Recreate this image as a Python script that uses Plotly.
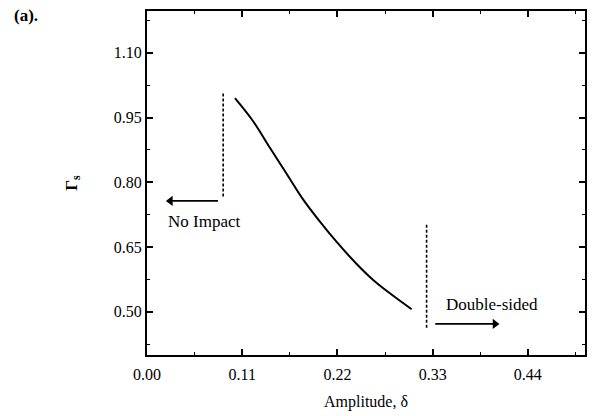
import plotly.graph_objects as go

# Curve data
amplitude = [0.1016, 0.1228, 0.142, 0.1613, 0.1805, 0.1998, 0.2191,
             0.2422, 0.2613, 0.2806, 0.3057]
gamma_s = [0.995, 0.941, 0.880, 0.820, 0.760, 0.709, 0.662,
           0.611, 0.574, 0.543, 0.506]

# Boundary markers
no_impact_x = [0.088, 0.088]
no_impact_y = [0.767, 1.01]
double_x = [0.323, 0.323]
double_y = [0.463, 0.702]

# Arrows (tail -> head)
no_impact_arrow_x = [0.082, 0.027]
no_impact_arrow_y = [0.757, 0.757]
double_arrow_x = [0.333, 0.402]
double_arrow_y = [0.472, 0.472]

x_ticks = [0.00, 0.11, 0.22, 0.33, 0.44]
x_ticklabels = ["0.00", "0.11", "0.22", "0.33", "0.44"]
y_ticks = [0.50, 0.65, 0.80, 0.95, 1.10]
y_ticklabels = ["0.50", "0.65", "0.80", "0.95", "1.10"]

FONT = "Liberation Serif"

fig = go.Figure()
fig.add_trace(go.Scatter(x=amplitude, y=gamma_s, mode="lines",
                         line=dict(color="black", width=2, shape="spline", smoothing=1.0),
                         showlegend=False))
for xs, ys in [(no_impact_x, no_impact_y), (double_x, double_y)]:
    fig.add_trace(go.Scatter(x=xs, y=ys, mode="lines",
                             line=dict(color="black", width=1.6, dash="3px,2px"),
                             showlegend=False))
for xs, ys, sym in [(no_impact_arrow_x, no_impact_arrow_y, "triangle-left"),
                    (double_arrow_x, double_arrow_y, "triangle-right")]:
    fig.add_trace(go.Scatter(x=xs, y=ys, mode="lines", line=dict(color="black", width=1.6),
                             showlegend=False))
    fig.add_trace(go.Scatter(x=[xs[1]], y=[ys[1]], mode="markers",
                             marker=dict(symbol=sym, size=9, color="black"),
                             showlegend=False))

fig.add_annotation(x=0.066, y=0.709, xref="x", yref="y", text="No Impact",
                   showarrow=False, font=dict(family=FONT, size=17, color="black"))
fig.add_annotation(x=0.398, y=0.516, xref="x", yref="y", text="Double-sided",
                   showarrow=False, font=dict(family=FONT, size=17, color="black"))

W, H = 592, 416
L, R, T, B = 147, 7, 11, 61

fig.add_annotation(x=(26 - L) / (W - L - R), y=1 - (15 - T) / (H - T - B),
                   xref="paper", yref="paper", xanchor="center", yanchor="middle",
                   text="<b>(a).</b>",
                   showarrow=False, font=dict(family=FONT, size=17, color="black"))

axis_common = dict(showgrid=False, zeroline=False, showline=True, linecolor="black",
                   linewidth=2, mirror="ticks", ticks="inside", ticklen=6,
                   tickwidth=1.5, tickcolor="black", automargin=False,
                   tickfont=dict(family=FONT, size=16, color="black"))

fig.update_xaxes(range=[0, 0.506], tickvals=x_ticks, ticktext=x_ticklabels,
                 minor=dict(ticks="inside", ticklen=3, tickcolor="black", dtick=0.055,
                            tick0=0, tickwidth=1.2),
                 title=dict(text="Amplitude, δ", standoff=14,
                            font=dict(family=FONT, size=16, color="black")),
                 ticklabelstandoff=4,
                 **axis_common)
fig.update_yaxes(range=[0.40, 1.197], tickvals=y_ticks, ticktext=y_ticklabels,
                 minor=dict(ticks="inside", ticklen=3, tickcolor="black", dtick=0.075,
                            tick0=0.425, tickwidth=1.2),
                 title=dict(text="<b>Γ<sub>s</sub></b>", standoff=32,
                            font=dict(family=FONT, size=17, color="black")),
                 **axis_common)

fig.update_layout(width=W, height=H, margin=dict(l=L, r=R, t=T, b=B),
                  paper_bgcolor="white", plot_bgcolor="white",
                  font=dict(family=FONT, color="black"))

fig.write_html("out.html")
